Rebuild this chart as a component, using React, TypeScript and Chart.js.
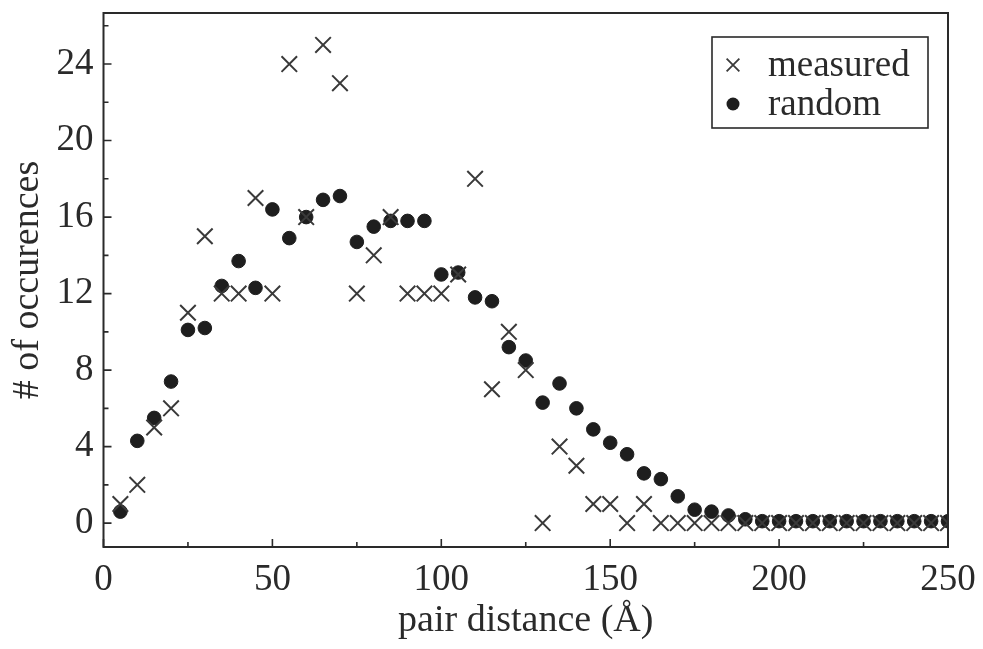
import React, { useEffect, useRef } from "react";
import { Chart, registerables } from "chart.js";

Chart.register(...registerables);

// pair distance (Å)
const distances = [
  5, 10, 15, 20, 25, 30, 35, 40, 45, 50,
  55, 60, 65, 70, 75, 80, 85, 90, 95, 100,
  105, 110, 115, 120, 125, 130, 135, 140, 145, 150,
  155, 160, 165, 170, 175, 180, 185, 190, 195, 200,
  205, 210, 215, 220, 225, 230, 235, 240, 245, 250,
];

// # of occurences — measured
const measured = [
  1, 2, 5, 6, 11, 15, 12, 12, 17, 12,
  24, 16, 25, 23, 12, 14, 16, 12, 12, 12,
  13, 18, 7, 10, 8, 0, 4, 3, 1, 1,
  0, 1, 0, 0, 0, 0, 0, 0, 0, 0,
  0, 0, 0, 0, 0, 0, 0, 0, 0, 0,
];

// # of occurences — random
const random = [
  0.6, 4.3, 5.5, 7.4, 10.1, 10.2, 12.4, 13.7, 12.3, 16.4,
  14.9, 16.0, 16.9, 17.1, 14.7, 15.5, 15.8, 15.8, 15.8, 13.0,
  13.1, 11.8, 11.6, 9.2, 8.5, 6.3, 7.3, 6.0, 4.9, 4.2,
  3.6, 2.6, 2.3, 1.4, 0.7, 0.6, 0.4, 0.2, 0.1, 0.1,
  0.1, 0.1, 0.1, 0.1, 0.1, 0.1, 0.1, 0.1, 0.1, 0.1,
];

const seriesLabels = ["measured", "random"];
const xTickValues = [0, 50, 100, 150, 200, 250];
const xMinorTicks = [25, 75, 125, 175, 225];
const yTickValues = [0, 4, 8, 12, 16, 20, 24];
const yMinorTicks = [2, 6, 10, 14, 18, 22, 26];
const xTitle = "pair distance (Å)";
const yTitle = "# of occurences";

const FONT = "'Liberation Serif', 'Times New Roman', serif";
const INK = "#2a2a2a";

function drawCross(ctx: CanvasRenderingContext2D, x: number, y: number, r: number) {
  const d = r * Math.SQRT1_2;
  ctx.beginPath();
  ctx.moveTo(x - d, y - d);
  ctx.lineTo(x + d, y + d);
  ctx.moveTo(x - d, y + d);
  ctx.lineTo(x + d, y - d);
  ctx.stroke();
}

const framePlugin = {
  id: "frameTicksLegend",
  afterDatasetsDraw(chart: any) {
    const { ctx, chartArea: a, scales } = chart;
    const xs = scales.x;
    const ys = scales.y;
    ctx.save();
    // frame
    ctx.strokeStyle = INK;
    ctx.lineWidth = 2;
    ctx.strokeRect(a.left, a.top, a.right - a.left, a.bottom - a.top);
    // inward ticks
    ctx.lineWidth = 1.6;
    ctx.beginPath();
    xTickValues.forEach((v) => {
      const px = xs.getPixelForValue(v);
      ctx.moveTo(px, a.bottom);
      ctx.lineTo(px, a.bottom - 8);
    });
    xMinorTicks.forEach((v) => {
      const px = xs.getPixelForValue(v);
      ctx.moveTo(px, a.bottom);
      ctx.lineTo(px, a.bottom - 5);
    });
    yTickValues.forEach((v) => {
      const py = ys.getPixelForValue(v);
      ctx.moveTo(a.left, py);
      ctx.lineTo(a.left + 8, py);
    });
    yMinorTicks.forEach((v) => {
      const py = ys.getPixelForValue(v);
      ctx.moveTo(a.left, py);
      ctx.lineTo(a.left + 5, py);
    });
    ctx.stroke();

    // legend box
    const bw = 216;
    const bh = 91;
    const bx = a.right - 20 - bw;
    const by = a.top + 24;
    ctx.fillStyle = "#ffffff";
    ctx.fillRect(bx, by, bw, bh);
    ctx.lineWidth = 1.6;
    ctx.strokeStyle = INK;
    ctx.strokeRect(bx, by, bw, bh);

    const ds = chart.data.datasets;
    const rows = [by + 28, by + 67];
    ctx.font = `37px ${FONT}`;
    ctx.textBaseline = "middle";
    ctx.textAlign = "left";
    ds.forEach((d: any, i: number) => {
      const cy = rows[i];
      const cx = bx + 21;
      if (d.pointStyle === "crossRot") {
        ctx.strokeStyle = "#3a3a3a";
        ctx.lineWidth = 1.8;
        drawCross(ctx, cx, cy, 9);
      } else {
        ctx.fillStyle = "#1e1e1e";
        ctx.beginPath();
        ctx.arc(cx, cy, 6.5, 0, Math.PI * 2);
        ctx.fill();
      }
      ctx.fillStyle = INK;
      ctx.fillText(d.label, bx + 56, cy + 1);
    });
    ctx.restore();
  },
};

export default function App() {
  const ref = useRef<HTMLCanvasElement | null>(null);

  useEffect(() => {
    document.body.style.margin = "0";
    document.body.style.background = "#ffffff";
    const canvas = ref.current;
    if (!canvas) return;
    const chart = new Chart(canvas, {
      type: "scatter",
      data: {
        datasets: [
          {
            label: seriesLabels[0],
            data: distances.map((x, i) => ({ x, y: measured[i] })),
            pointStyle: "crossRot",
            pointRadius: 11,
            pointBorderWidth: 2,
            borderColor: "#3a3a3a",
            backgroundColor: "#3a3a3a",
          },
          {
            label: seriesLabels[1],
            data: distances.map((x, i) => ({ x, y: random[i] })),
            pointStyle: "circle",
            pointRadius: 6.8,
            pointBorderWidth: 1,
            borderColor: "#1e1e1e",
            backgroundColor: "#1e1e1e",
          },
        ],
      },
      options: {
        animation: false,
        responsive: false,
        maintainAspectRatio: false,
        events: [],
        layout: { padding: { top: 11, right: 35, left: 0, bottom: 0 } },
        plugins: {
          legend: { display: false },
          tooltip: { enabled: false },
        },
        scales: {
          x: {
            type: "linear",
            min: 0,
            max: 250,
            afterBuildTicks: (s: any) => {
              s.ticks = xTickValues.map((v) => ({ value: v }));
            },
            afterFit: (s: any) => {
              s.height = 102;
              s.paddingLeft = 0;
              s.paddingRight = 0;
              s.paddingTop = 0;
              s.paddingBottom = 0;
            },
            grid: { display: false, drawTicks: false },
            border: { display: false },
            ticks: {
              color: INK,
              padding: 11,
              maxRotation: 0,
              autoSkip: false,
              font: { family: FONT, size: 37 },
            },
            title: {
              display: true,
              text: xTitle,
              color: INK,
              font: { family: FONT, size: 38 },
              padding: { top: 0, bottom: 5 },
            },
          },
          y: {
            type: "linear",
            min: -1.25,
            max: 26.67,
            afterBuildTicks: (s: any) => {
              s.ticks = yTickValues.map((v) => ({ value: v }));
            },
            afterFit: (s: any) => {
              s.width = 103.5;
              s.paddingLeft = 0;
              s.paddingRight = 0;
              s.paddingTop = 0;
              s.paddingBottom = 0;
            },
            grid: { display: false, drawTicks: false },
            border: { display: false },
            ticks: {
              color: INK,
              padding: 10,
              autoSkip: false,
              font: { family: FONT, size: 37 },
            },
            title: {
              display: true,
              text: yTitle,
              color: INK,
              font: { family: FONT, size: 38 },
              padding: { top: 5, bottom: 0 },
            },
          },
        },
      },
      plugins: [framePlugin],
    });
    return () => chart.destroy();
  }, []);

  return (
    <div style={{ width: 983, height: 649, background: "#ffffff" }}>
      <canvas ref={ref} width={983} height={649} style={{ display: "block" }} />
    </div>
  );
}
